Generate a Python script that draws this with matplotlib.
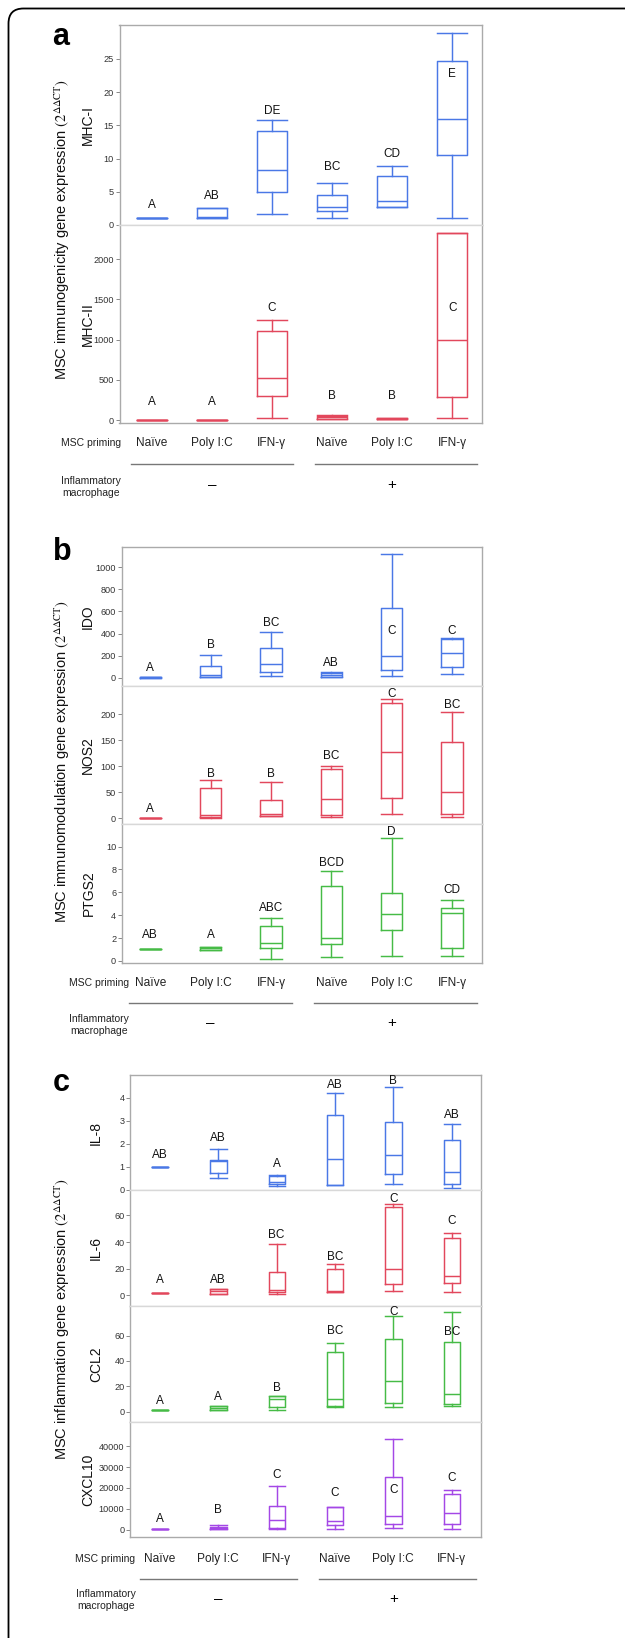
import matplotlib.pyplot as plt
import matplotlib.transforms as mtransforms
from matplotlib.patches import FancyBboxPatch
from matplotlib.lines import Line2D

W, H = 625, 1638

# box stats per group: [whisker low, q1, median, q3, whisker high]
groups = ["Naïve", "Poly I:C", "IFN-γ", "Naïve", "Poly I:C", "IFN-γ"]

mhc1_stats = [[1.0, 1.0, 1.0, 1.0, 1.0], [1.0, 1.1, 1.2, 2.5, 2.5], [1.6, 4.9, 8.3, 14.2, 15.8],
              [1.1, 2.1, 2.7, 4.5, 6.3], [2.7, 2.7, 3.6, 7.3, 8.9], [1.1, 10.5, 16.0, 24.7, 28.9]]
mhc1_letters = ["A", "AB", "DE", "BC", "CD", "E"]
mhc1_letter_y = [3.0, 4.4, 17.2, 8.7, 10.7, 22.7]

mhc2_stats = [[3, 3, 4, 5, 5], [3, 3, 4, 5, 5], [25, 300, 520, 1110, 1240],
              [10, 12, 35, 55, 60], [8, 10, 15, 25, 28], [20, 280, 990, 2320, 2320]]
mhc2_letters = ["A", "A", "C", "B", "B", "C"]
mhc2_letter_y = [228, 228, 1390, 295, 295, 1390]

ido_stats = [[2, 2, 3, 4, 4], [3, 8, 25, 105, 205], [18, 55, 127, 269, 416],
             [8, 10, 28, 45, 48], [18, 72, 196, 628, 1117], [36, 100, 226, 350, 359]]
ido_letters = ["A", "B", "BC", "AB", "C", "C"]
ido_letter_y = [90, 296, 498, 130, 423, 423]

nos2_stats = [[1, 1, 1, 1, 1], [1.5, 2, 6.3, 57.7, 73.6], [4, 4.4, 7.7, 36, 70],
              [2.5, 6.3, 37.7, 94, 100.6], [8.3, 39, 127, 222, 229], [2.5, 8.3, 50.6, 147, 204]]
nos2_letters = ["A", "B", "B", "BC", "C", "BC"]
nos2_letter_y = [18, 86, 86, 120, 240, 218]

ptgs2_stats = [[1.05, 1.05, 1.05, 1.05, 1.05], [0.95, 0.95, 1.1, 1.25, 1.25], [0.15, 1.1, 1.6, 3.06, 3.76],
               [0.32, 1.51, 2.04, 6.52, 7.86], [0.46, 2.68, 4.1, 5.94, 10.77], [0.41, 1.16, 4.22, 4.63, 5.33]]
ptgs2_letters = ["AB", "A", "ABC", "BCD", "D", "CD"]
ptgs2_letter_y = [2.27, 2.27, 4.66, 8.53, 11.24, 6.2]

il8_stats = [[1, 1, 1, 1, 1], [0.52, 0.73, 1.23, 1.29, 1.79], [0.16, 0.23, 0.35, 0.6, 0.62],
             [0.19, 0.22, 1.35, 3.25, 4.2], [0.23, 0.68, 1.5, 2.94, 4.47], [0.09, 0.25, 0.79, 2.17, 2.85]]
il8_letters = ["AB", "AB", "A", "AB", "B", "AB"]
il8_letter_y = [1.5, 2.27, 1.1, 4.57, 4.75, 3.26]

il6_stats = [[2, 2, 2, 2, 2], [1, 1, 3.3, 5, 5], [1.3, 2.3, 4.3, 17.6, 38.7],
             [2.3, 2.5, 3.3, 20.1, 23.6], [3.5, 8.5, 20.1, 66.1, 68.6], [2.8, 9.3, 14.3, 42.7, 47]]
il6_letters = ["A", "AB", "BC", "BC", "C", "C"]
il6_letter_y = [11.6, 11.6, 45, 28.4, 72.6, 56]

ccl2_stats = [[1, 1, 1, 1, 1], [1.0, 1.0, 2.6, 4.4, 4.4], [1.0, 3.7, 9.7, 12.3, 12.3],
              [3.9, 4.4, 9.7, 47, 54], [3.7, 7.0, 24.5, 57.4, 75], [4.7, 6.5, 13.8, 54.8, 78.3]]
ccl2_letters = ["A", "A", "B", "BC", "C", "BC"]
ccl2_letter_y = [8.6, 11.7, 18.8, 63.4, 78.3, 62.7]

cxcl10_stats = [[200, 200, 300, 300, 300], [160, 160, 640, 1100, 2070], [300, 800, 4470, 11300, 20900],
                [160, 2070, 4300, 10700, 10700], [960, 2700, 6700, 25000, 43200], [160, 2700, 8100, 17200, 18800]]
cxcl10_letters = ["A", "B", "C", "C", "C", "C"]
cxcl10_letter_y = [4950, 9400, 26200, 17700, 19000, 24600]

BLUE = "#4a78e6"
RED = "#e2475c"
GREEN = "#46bb46"
PURPLE = "#a447e6"

SANS = ["Liberation Sans", "DejaVu Sans"]
plt.rcParams["font.family"] = SANS
plt.rcParams["mathtext.fontset"] = "stix"

fig = plt.figure(figsize=(W / 100, H / 100), dpi=100)


def px_axes(left, right, top, bottom):
    return fig.add_axes([left / W, 1 - bottom / H, (right - left) / W, (bottom - top) / H])


def draw_gene(ax, stats, letters, letter_y, color, width, ylim, yticks, gene, gene_px, xlim, left, right,
              top_divider, bottom_divider):
    bstats = [dict(whislo=s[0], q1=s[1], med=s[2], q3=s[3], whishi=s[4]) for s in stats]
    lp = dict(color=color, linewidth=1.05)
    ax.bxp(bstats, positions=range(len(stats)), widths=width, capwidths=width, showfliers=False,
           boxprops=lp, medianprops=lp, whiskerprops=lp, capprops=lp)
    for i, (lab, y) in enumerate(zip(letters, letter_y)):
        ax.text(i, y, lab, ha="center", va="center", fontsize=8.5, color="#111111")
    ax.set_xlim(*xlim)
    ax.set_ylim(*ylim)
    ax.set_yticks(yticks)
    ax.set_yticklabels([str(t) for t in yticks])
    ax.set_xticks([])
    ax.tick_params(axis="y", length=3, width=0.7, color="#888888", labelsize=6.6, pad=1, labelcolor="#333333")
    for sp in ax.spines.values():
        sp.set_linewidth(1.0)
        sp.set_color("#aaaaaa")
    if top_divider:
        ax.spines["top"].set_color("#d8d8d8")
    if bottom_divider:
        ax.spines["bottom"].set_color("#d8d8d8")
    gx = (gene_px - left) / (right - left)
    ax.text(gx, 0.5, gene, transform=ax.transAxes, rotation=90, ha="center", va="center",
            fontsize=10, color="#111111")


def draw_panel(letter, ylabel, left, right, edges, genes, xlim, ylabel_y,
               letter_xy, prime_y, prime_right, line_y, infl_xy, sign_y):
    axes = []
    n = len(genes)
    for k, g in enumerate(genes):
        ax = px_axes(left, right, edges[k], edges[k + 1])
        draw_gene(ax, *g, xlim, left, right, k > 0, k < n - 1)
        axes.append(ax)
    bottom_ax = axes[-1]
    tr = mtransforms.blended_transform_factory(bottom_ax.transData, fig.transFigure)
    for i, lab in enumerate(groups):
        fig.text(i, 1 - prime_y / H, lab, transform=tr, ha="center", va="center", fontsize=8.6, color="#222222")
    fig.text(prime_right / W, 1 - prime_y / H, "MSC priming", ha="right", va="center", fontsize=7.5, color="#222222")
    for x0, x1 in [(-0.35, 2.35), (2.72, 5.42)]:
        fig.add_artist(Line2D([x0, x1], [1 - line_y / H] * 2, transform=tr, color="#777777", lw=1.0))
    fig.text(infl_xy[0] / W, 1 - infl_xy[1] / H, "Inflammatory\nmacrophage", ha="center", va="center",
             fontsize=7.5, color="#222222", linespacing=1.25)
    fig.text(1, 1 - sign_y / H, "–", transform=tr, ha="center", va="center", fontsize=11)
    fig.text(4, 1 - sign_y / H, "+", transform=tr, ha="center", va="center", fontsize=11)
    fig.text(letter_xy[0] / W, 1 - letter_xy[1] / H, letter, ha="center", va="center", fontsize=22,
             fontweight="bold")
    fig.text(62 / W, 1 - ylabel_y / H, ylabel + r" $\mathrm{(2^{\Delta\Delta CT})}$", rotation=90,
             ha="center", va="center", fontsize=10.5, color="#111111")


# panel a
draw_panel("a", "MSC immunogenicity gene expression", 119.5, 482, [25, 225, 423.3],
           [(mhc1_stats, mhc1_letters, mhc1_letter_y, BLUE, 0.5, (0, 30.1), [0, 5, 10, 15, 20, 25], "MHC-I", 88),
            (mhc2_stats, mhc2_letters, mhc2_letter_y, RED, 0.5, (-41, 2425), [0, 500, 1000, 1500, 2000],
             "MHC-II", 88)],
           (-0.536, 5.496), 230, (61, 37), 443, 121, 463.7, (91, 487), 485)

# panel b
draw_panel("b", "MSC immunomodulation gene expression", 121.7, 482.3, [547.3, 685.7, 824.3, 962.7],
           [(ido_stats, ido_letters, ido_letter_y, BLUE, 0.35, (-72, 1180), [0, 200, 400, 600, 800, 1000], "IDO", 88),
            (nos2_stats, nos2_letters, nos2_letter_y, RED, 0.35, (-11.5, 255), [0, 50, 100, 150, 200], "NOS2", 88),
            (ptgs2_stats, ptgs2_letters, ptgs2_letter_y, GREEN, 0.35, (-0.15, 11.94), [0, 2, 4, 6, 8, 10],
             "PTGS2", 89)],
           (-0.474, 5.502), 762, (62, 552), 983.3, 129, 1003, (99, 1025), 1023)

# panel c
draw_panel("c", "MSC inflammation gene expression", 130, 481, [1075, 1190.3, 1305.7, 1422.3, 1537.3],
           [(il8_stats, il8_letters, il8_letter_y, BLUE, 0.28, (-0.03, 5.0), [0, 1, 2, 3, 4], "IL-8", 96),
            (il6_stats, il6_letters, il6_letter_y, RED, 0.28, (-7.8, 78.8), [0, 20, 40, 60], "IL-6", 96),
            (ccl2_stats, ccl2_letters, ccl2_letter_y, GREEN, 0.28, (-8.3, 83.5), [0, 20, 40, 60], "CCL2", 96),
            (cxcl10_stats, cxcl10_letters, cxcl10_letter_y, PURPLE, 0.28, (-3640, 51400),
             [0, 10000, 20000, 30000, 40000], "CXCL10", 88)],
           (-0.514, 5.502), 1319, (61, 1083), 1559, 135, 1578.7, (106, 1600), 1599)

# outer rounded frame, partly off the canvas on the right and bottom
frame = FancyBboxPatch((0.085, -0.5), 7.0, H / 100 - 0.085 + 0.5,
                       boxstyle="round,pad=0,rounding_size=0.15", transform=fig.dpi_scale_trans,
                       fill=False, edgecolor="black", linewidth=1.3)
fig.patches.append(frame)

fig.savefig("out.png", dpi=100)
